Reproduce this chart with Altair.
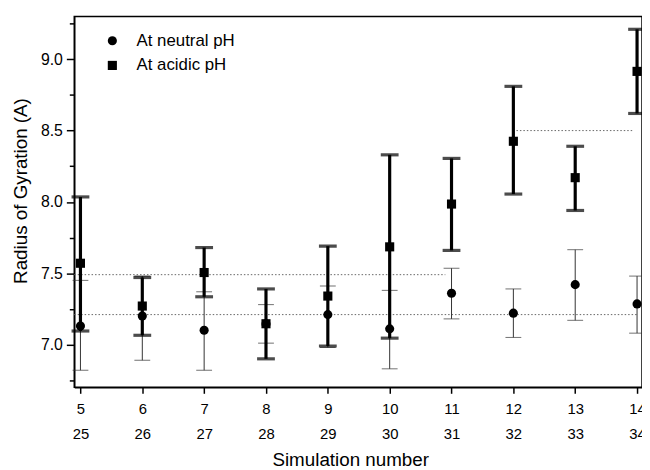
import altair as alt
import pandas as pd

sim = [5, 6, 7, 8, 9, 10, 11, 12, 13, 14]
sim_second = [25, 26, 27, 28, 29, 30, 31, 32, 33, 34]

neutral_mean = [7.13, 7.20, 7.10, 7.145, 7.21, 7.11, 7.36, 7.22, 7.42, 7.285]
neutral_low = [6.82, 6.89, 6.82, 7.01, 6.98, 6.83, 7.18, 7.05, 7.17, 7.08]
neutral_high = [7.45, 7.48, 7.37, 7.28, 7.41, 7.38, 7.535, 7.39, 7.665, 7.48]

acidic_mean = [7.57, 7.27, 7.505, 7.146, 7.34, 7.685, 7.985, 8.425, 8.17, 8.915]
acidic_low = [7.095, 7.065, 7.335, 6.90, 6.99, 7.045, 7.66, 8.055, 7.94, 8.62]
acidic_high = [8.035, 7.47, 7.68, 7.39, 7.69, 8.33, 8.305, 8.81, 8.39, 9.21]

ref_y = [7.21, 7.49, 8.50]
ref_start = [4.9, 4.9, 12.05]
ref_end = [14.0, 10.9, 13.95]

y_all_ticks = [6.75, 7.0, 7.25, 7.5, 7.75, 8.0, 8.25, 8.5, 8.75, 9.0, 9.25]

series_names = ["At neutral pH", "At acidic pH"]

rows = []
for i, s in enumerate(sim):
    rows.append({"sim": s, "second": sim_second[i], "series": series_names[0],
                 "mean": neutral_mean[i], "low": neutral_low[i], "high": neutral_high[i]})
for i, s in enumerate(sim):
    rows.append({"sim": s, "second": sim_second[i], "series": series_names[1],
                 "mean": acidic_mean[i], "low": acidic_low[i], "high": acidic_high[i]})
df = pd.DataFrame(rows)
dn = df[df.series == series_names[0]]
da = df[df.series == series_names[1]]
refs = pd.DataFrame({"y": ref_y, "x1": ref_start, "x2": ref_end})

FONT = "Liberation Sans"

xscale = alt.Scale(domain=[4.9, 14.08], nice=False, zero=False)
yscale = alt.Scale(domain=[6.7, 9.3], nice=False, zero=False)

major_test = "abs(datum.value * 2 - round(datum.value * 2)) < 0.001"

x_axis = alt.Axis(
    values=sim, tickCount=20, format="d", title="Simulation number",
    labelExpr="[datum.label, '' + (datum.value + 20)]",
    labelLineHeight=26, labelFontSize=15, labelPadding=8,
    titleFontSize=19, titlePadding=9, titleX=279, grid=False, tickSize=6,
)
y_axis = alt.Axis(
    values=y_all_ticks, tickCount=30, format=".1f",
    labelExpr="(" + major_test + ") ? datum.label : ''",
    title="Radius of Gyration (A)", labelFontSize=16, labelPadding=4,
    titleFontSize=19, titlePadding=10, titleY=176, grid=False,
    tickSize={"condition": {"test": major_test, "value": 8}, "value": 5},
)

X = alt.X("x1:Q", scale=xscale, axis=x_axis)
Y = alt.Y("y:Q", scale=yscale, axis=y_axis)

ref_layer = alt.Chart(refs).mark_rule(color="#666666", strokeDash=[1.5, 2], strokeWidth=1).encode(
    x=X, x2="x2:Q", y=Y
)

def bars(data, color, width, cap):
    base = alt.Chart(data)
    rule = base.mark_rule(color=color, strokeWidth=width).encode(
        x=alt.X("sim:Q", scale=xscale), y=alt.Y("low:Q", scale=yscale), y2="high:Q"
    )
    t1 = base.mark_tick(orient="horizontal", color=color, thickness=width, size=cap).encode(
        x=alt.X("sim:Q", scale=xscale), y=alt.Y("low:Q", scale=yscale)
    )
    t2 = base.mark_tick(orient="horizontal", color=color, thickness=width, size=cap).encode(
        x=alt.X("sim:Q", scale=xscale), y=alt.Y("high:Q", scale=yscale)
    )
    return rule + t1 + t2

n_bars = bars(dn, "#333333", 1, 16)
a_bars = bars(da, "#000000", 3.2, 18)

points = alt.Chart(df).mark_point(filled=True, size=85, opacity=1, color="black").encode(
    x=alt.X("sim:Q", scale=xscale),
    y=alt.Y("mean:Q", scale=yscale),
    shape=alt.Shape("series:N", scale=alt.Scale(domain=series_names, range=["circle", "square"]),
                    legend=alt.Legend(orient="none", legendX=30, legendY=16, title=None,
                                      labelFontSize=17, symbolSize=85, symbolFillColor="black",
                                      symbolStrokeColor="black", rowPadding=7, labelOffset=16,
                                      padding=0)),
)

chart = alt.layer(ref_layer, n_bars, a_bars, points).properties(
    width=574, height=375,
    padding={"left": 67, "top": 6, "right": 0, "bottom": 81},
    autosize="none",
).configure(font=FONT).configure_view(
    stroke="black", strokeWidth=1.5
).configure_axis(
    domainColor="black", domainWidth=1.5, tickColor="black", tickWidth=1.5,
    labelColor="black", titleColor="black", labelFont=FONT, titleFont=FONT,
    titleFontWeight="normal",
).configure_legend(labelFont=FONT, labelColor="black")

chart.save("out.html", embed_options={"renderer": "svg", "actions": False})
